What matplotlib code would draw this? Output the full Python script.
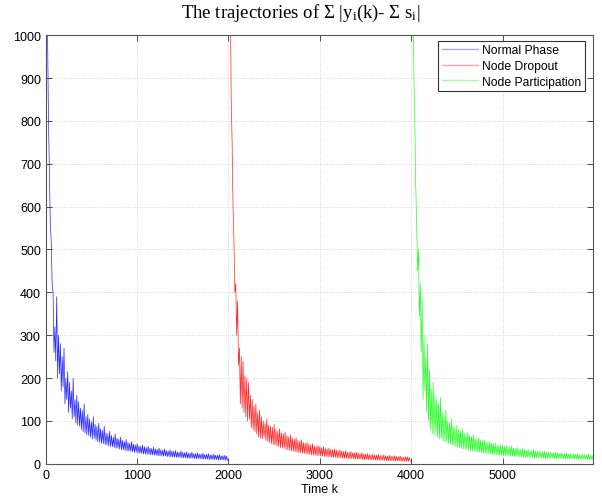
import numpy as np
import matplotlib
matplotlib.use("Agg")
import matplotlib.pyplot as plt

plt.rcParams['font.family'] = ['Liberation Sans', 'DejaVu Sans']
plt.rcParams['mathtext.fontset'] = 'custom'
plt.rcParams['mathtext.rm'] = 'Liberation Serif'
plt.rcParams['mathtext.it'] = 'Liberation Serif:italic'

# upper / lower swing of each trace, one pair every 20 steps
step = 20

normal_hi = [1300, 1000, 680, 520, 400, 320, 390, 300, 280, 250,
             270, 200, 215, 190, 170, 200, 150, 160, 145, 130,
             125, 140, 110, 115, 105, 98, 110, 92, 88, 95,
             82, 78, 88, 72, 70, 76, 66, 62, 70, 60,
             58, 62, 55, 52, 57, 50, 48, 52, 46, 44,
             47, 42, 41, 44, 40, 38, 41, 37, 36, 39,
             35, 34, 37, 33, 32, 35, 31, 30, 33, 30,
             29, 31, 28, 27, 30, 27, 26, 28, 25, 25,
             27, 24, 24, 26, 23, 23, 25, 22, 22, 24,
             21, 21, 23, 20, 20, 22, 19, 19, 20, 18]
normal_lo = [1100, 800, 560, 420, 260, 240, 200, 210, 170, 180,
             140, 150, 120, 130, 105, 110, 95, 90, 88, 80,
             75, 72, 68, 66, 62, 58, 60, 55, 52, 50,
             48, 47, 45, 44, 42, 40, 40, 38, 37, 36,
             34, 33, 33, 31, 30, 30, 29, 28, 27, 27,
             25, 25, 24, 23, 23, 22, 22, 21, 21, 20,
             20, 19, 19, 18, 18, 18, 17, 17, 16, 16,
             16, 15, 15, 15, 14, 14, 14, 13, 13, 13,
             13, 12, 12, 12, 12, 11, 11, 11, 11, 10,
             10, 10, 10, 10, 9, 9, 9, 9, 8, 8]

dropout_hi = [1350, 1100, 750, 520, 420, 380, 270, 250, 240, 205,
              200, 190, 160, 150, 135, 140, 120, 125, 110, 100,
              95, 105, 90, 88, 85, 92, 80, 76, 82, 72,
              70, 74, 66, 63, 68, 60, 58, 61, 55, 53,
              56, 50, 48, 50, 46, 44, 47, 42, 41, 43,
              40, 38, 40, 36, 35, 37, 34, 33, 35, 32,
              31, 33, 30, 29, 31, 28, 27, 29, 26, 26,
              27, 25, 24, 26, 23, 23, 24, 22, 21, 23,
              21, 20, 22, 20, 19, 21, 19, 18, 20, 18,
              18, 19, 17, 17, 18, 16, 16, 17, 16, 15]
dropout_lo = [1150, 850, 600, 400, 300, 230, 140, 130, 120, 110,
              100, 105, 85, 80, 75, 70, 62, 60, 58, 62,
              55, 52, 50, 47, 45, 44, 42, 40, 38, 37,
              36, 34, 33, 32, 30, 30, 28, 27, 26, 26,
              25, 24, 23, 22, 22, 21, 20, 20, 19, 19,
              18, 18, 17, 17, 16, 16, 15, 15, 15, 14,
              14, 14, 13, 13, 13, 12, 12, 12, 12, 11,
              11, 11, 11, 10, 10, 10, 10, 9, 9, 9,
              9, 9, 8, 8, 8, 8, 8, 7, 7, 7,
              7, 7, 7, 7, 6, 6, 6, 6, 6, 6]

particip_hi = [1400, 1150, 800, 560, 500, 420, 385, 300, 250, 280,
               220, 175, 190, 160, 150, 140, 155, 120, 115, 125,
               100, 95, 105, 88, 85, 90, 80, 76, 82, 72,
               70, 73, 66, 64, 68, 60, 58, 61, 55, 54,
               56, 51, 50, 52, 48, 46, 49, 44, 43, 45,
               42, 41, 43, 40, 39, 41, 37, 36, 38, 35,
               34, 36, 33, 32, 34, 31, 31, 33, 30, 29,
               31, 28, 28, 30, 27, 27, 28, 26, 26, 27,
               25, 25, 26, 24, 24, 25, 23, 23, 24, 23,
               22, 23, 22, 21, 23, 21, 20, 22, 20, 20]
particip_lo = [1200, 900, 650, 450, 345, 260, 150, 170, 120, 100,
               80, 70, 65, 75, 62, 58, 60, 54, 52, 50,
               48, 46, 44, 42, 40, 39, 38, 36, 35, 34,
               33, 32, 31, 30, 29, 28, 28, 27, 26, 25,
               25, 24, 23, 23, 22, 22, 21, 21, 20, 20,
               19, 19, 19, 18, 18, 18, 17, 17, 17, 16,
               16, 16, 16, 15, 15, 15, 15, 14, 14, 14,
               14, 14, 13, 13, 13, 13, 13, 13, 12, 12,
               12, 12, 12, 12, 12, 12, 11, 11, 11, 11,
               11, 11, 11, 11, 11, 11, 11, 10, 10, 10]

phase_start = [0, 2000, 4000]
labels = ['Normal Phase', 'Node Dropout', 'Node Participation']
colors = ['#0000ff', '#ff0000', '#00ff00']
series = [(normal_hi, normal_lo), (dropout_hi, dropout_lo), (particip_hi, particip_lo)]

fig = plt.figure(figsize=(6.02, 5.02), dpi=100)
ax = fig.add_axes([0.076, 0.074, 0.909, 0.854])

for start, (hi, lo), lab, col in zip(phase_start, series, labels, colors):
    n = len(hi)
    k = np.empty(2 * n)
    v = np.empty(2 * n)
    k[0::2] = start + step * np.arange(n)
    k[1::2] = start + step * np.arange(n) + step / 2
    v[0::2] = hi
    v[1::2] = lo
    ax.plot(k, v, color=col, lw=0.5, alpha=0.85, label=lab)

ax.set_xlim(0, 5990)
ax.set_ylim(0, 1000)
ax.set_xticks(range(0, 6000, 1000))
ax.set_yticks(range(0, 1001, 100))
ax.tick_params(direction='in', top=True, right=True, labelsize=9, length=4, width=0.6, colors='#333333', labelcolor='black')
for s in ax.spines.values():
    s.set_color('#555555')
    s.set_linewidth(0.8)
ax.grid(True, linestyle=':', color='#cccccc', linewidth=0.6)

ax.set_xlabel('Time k', fontsize=9, labelpad=2)
fig.suptitle(r'The trajectories of $\Sigma$ |y$_\mathrm{i}$(k)- $\Sigma$ s$_\mathrm{i}$|',
             family='Liberation Serif', fontsize=13.5, x=0.5, y=0.995)

leg = ax.legend(loc='upper right', fontsize=8.7, fancybox=False, framealpha=1,
                edgecolor='#333333', bbox_to_anchor=(0.985, 0.987), borderaxespad=0,
                handlelength=3.0, handletextpad=0.35,
                labelspacing=0.3, borderpad=0.3)
leg.get_frame().set_linewidth(0.8)
for h in leg.get_lines():
    h.set_alpha(0.35)
    h.set_linewidth(1.0)

fig.savefig('out.png', dpi=100)
